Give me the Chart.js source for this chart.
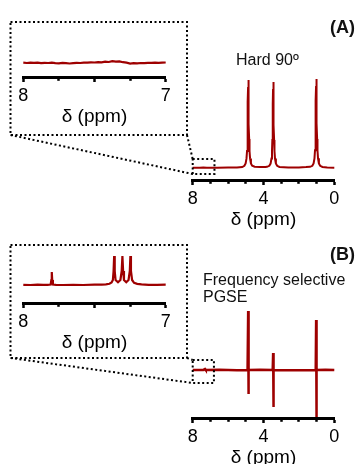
<!DOCTYPE html>
<html>
<head>
<meta charset="utf-8">
<script src="https://cdn.jsdelivr.net/npm/chart.js@4.4.0/dist/chart.umd.min.js"></script>
<style>
    html, body { margin: 0; padding: 0; background: #fff; width: 358px; height: 464px; overflow: hidden; }
    canvas { position: absolute; left: 0; top: 0; }
    .note { position: absolute; font-family: 'Liberation Sans', Arial, Helvetica, sans-serif; font-size: 16px; color: #111; white-space: nowrap; }
    .tag { font-weight: bold; font-size: 18px; line-height: 1; }
</style>
</head>
<body>
<canvas id="hardMain" width="358" height="520"></canvas>
<canvas id="hardZoom" width="358" height="520"></canvas>
<canvas id="pgseMain" width="358" height="520"></canvas>
<canvas id="pgseZoom" width="358" height="520"></canvas>

<div class="note tag" style="right:3px; top:18px;">(A)</div>
<div class="note" style="left:236px; top:52px; line-height:1;">Hard 90º</div>
<div class="note tag" style="right:3px; top:245px;">(B)</div>
<div class="note" style="left:203px; top:271px; line-height:17px;">Frequency selective<br>PGSE</div>

<script>
// Data (chemical shift in ppm, intensity in arbitrary units, baseline = 0)

// (A) hard 90° pulse spectrum
const hardPpm = [8.00, 7.60, 7.40, 7.20, 6.60, 6.00, 5.50, 5.20, 5.08, 5.01, 4.96, 4.93, 4.91, 4.895, 4.88, 4.87, 4.86, 4.85, 4.84, 4.825, 4.81, 4.79, 4.76, 4.71, 4.64, 4.50, 4.20, 3.90, 3.80, 3.67, 3.60, 3.55, 3.52, 3.50, 3.485, 3.47, 3.46, 3.45, 3.44, 3.43, 3.415, 3.40, 3.38, 3.35, 3.30, 3.23, 3.10, 2.60, 2.00, 1.60, 1.37, 1.24, 1.17, 1.12, 1.09, 1.07, 1.055, 1.04, 1.03, 1.02, 1.01, 1.00, 0.985, 0.97, 0.95, 0.92, 0.87, 0.80, 0.67, 0.40, 0.00];
const hardInt = [0.2, 0.3, 0.5, 0.2, 0.3, 0.4, 0.6, 1.0, 2.2, 4.5, 9.6, 17, 29, 44, 66, 81, 88, 81, 66, 44, 29, 17, 9.6, 4.5, 2.2, 1.2, 0.9, 1.1, 1.2, 2.2, 4.4, 9.4, 17, 28, 43, 64, 79, 86, 79, 64, 43, 28, 17, 9.4, 4.4, 2.2, 1.0, 0.6, 0.6, 0.9, 1.2, 2.2, 4.5, 9.7, 17.8, 29, 45, 67, 82, 89, 82, 67, 45, 29, 17.8, 9.7, 4.5, 2.2, 1.0, 0.5, 0.3];

// (A) inset, 8 -> 7 ppm
const hardZoomPpm = [8.000, 7.975, 7.950, 7.925, 7.900, 7.875, 7.850, 7.825, 7.800, 7.775, 7.750, 7.725, 7.700, 7.675, 7.650, 7.625, 7.600, 7.575, 7.550, 7.525, 7.500, 7.475, 7.450, 7.425, 7.400, 7.375, 7.350, 7.325, 7.300, 7.275, 7.250, 7.225, 7.200, 7.175, 7.150, 7.125, 7.100, 7.075, 7.050, 7.025, 7.000];
const hardZoomInt = [0.3, 0.0, 0.4, 0.1, 0.3, -0.2, 0.2, 0.0, 0.3, -0.1, -0.3, 0.1, -0.2, -0.5, -0.1, 0.2, 0.0, 0.4, 0.3, 0.7, 0.5, 0.9, 0.6, 1.3, 1.0, 1.8, 1.4, 1.6, 0.8, 0.3, -0.6, -0.2, -0.3, 0.0, -0.1, 0.2, 0.1, 0.3, 0.2, 0.4, 0.5];

// (B) frequency selective PGSE spectrum
const pgsePpm = [8.00, 7.81, 7.80, 7.79, 7.40, 7.33, 7.30, 7.26, 6.50, 5.50, 4.90, 4.866, 4.856, 4.83, 4.20, 3.48, 3.455, 3.445, 3.42, 2.50, 1.05, 1.026, 1.016, 0.99, 0.50, 0.00];
const pgseInt = [0, 0, 0.5, 0, 0, 0.8, 1.0, 0, 0.2, -0.2, 0, 59, -24, 0, 0.2, 0, 17, -37, 0, -0.2, 0, 50, -47, 0, 0.2, 0];

// (B) inset, 8 -> 7 ppm
const pgseZoomPpm = [8.000, 7.950, 7.900, 7.860, 7.830, 7.808, 7.803, 7.800, 7.797, 7.792, 7.770, 7.720, 7.650, 7.580, 7.500, 7.450, 7.420, 7.395, 7.380, 7.371, 7.366, 7.362, 7.358, 7.352, 7.335, 7.318, 7.309, 7.304, 7.299, 7.293, 7.277, 7.261, 7.252, 7.248, 7.244, 7.236, 7.222, 7.200, 7.170, 7.120, 7.060, 7.000];
const pgseZoomInt = [0.2, 0.0, 0.3, 0.1, 0.2, 0.5, 5, 13, 5, 0.5, 0.2, 0.0, 0.2, 0.0, 0.3, 0.4, 0.7, 1.2, 2.5, 5, 14, 29, 14, 5, 2.8, 5, 14, 29, 14, 5, 2.8, 5, 14, 29, 14, 5, 2.2, 1.2, 0.6, 0.2, 0.1, 0.3];

// Axis ticks
const mainTickLabels = [8, 4, 0];
const mainMajorTicks = [8, 4, 0];
const zoomTickLabels = [8, 7];
const zoomMajorTicks = [8, 7.5, 7];

// Styling
const RED = '#9e0000';
const FONT = "'Liberation Sans', Arial, Helvetica, sans-serif";
Chart.defaults.font.family = FONT;
Chart.defaults.color = '#000';

const CANVAS_H = 520;
const AXIS_H = 51;

function xAxis(min, max, step, labels, majors) {
    return {
        type: 'linear',
        reverse: true,
        min: min,
        max: max,
        afterFit: (scale) => { scale.height = AXIS_H; },
        border: { display: true, color: '#000', width: 3 },
        grid: {
            drawOnChartArea: false,
            drawTicks: true,
            tickLength: 5,
            tickWidth: 2.5,
            tickColor: '#000',
            tickBorderDash: (ctx) => (ctx.tick && majors.includes(ctx.tick.value)) ? [] : [1.8, 10]
        },
        ticks: {
            stepSize: step,
            autoSkip: false,
            maxRotation: 0,
            padding: 3,
            color: '#000',
            font: { size: 18 },
            callback: (v) => labels.includes(v) ? String(v) : ''
        },
        title: { display: true, text: 'δ (ppm)', color: '#000', font: { size: 19 }, padding: 0 }
    };
}

// dotted zoom box on the main spectrum, inset frame, and the two connecting lines
function zoomFrame(frame, box) {
    return {
        id: 'zoomFrame',
        afterDatasetsDraw(chart) {
            const { ctx, scales: { x, y } } = chart;
            const bl = x.getPixelForValue(box.from), br = x.getPixelForValue(box.to);
            const bt = y.getPixelForValue(box.top), bb = y.getPixelForValue(box.bottom);
            ctx.save();
            ctx.strokeStyle = '#000';
            ctx.lineWidth = 2;
            ctx.setLineDash([2, 2.5]);
            ctx.strokeRect(bl, bt, br - bl, bb - bt);
            ctx.strokeRect(frame.left, frame.top, frame.right - frame.left, frame.bottom - frame.top);
            ctx.beginPath();
            ctx.moveTo(frame.left, frame.bottom);
            ctx.lineTo(bl, bb);
            ctx.moveTo(frame.right, frame.bottom);
            ctx.lineTo(bl, bt);
            ctx.stroke();
            ctx.restore();
        }
    };
}

function makeChart(id, cfg) {
    return new Chart(document.getElementById(id), {
        type: 'line',
        data: {
            datasets: [{
                data: cfg.ppm.map((p, i) => ({ x: p, y: cfg.values[i] })),
                borderColor: RED,
                borderWidth: cfg.lineWidth,
                pointRadius: 0,
                tension: 0,
                clip: false
            }]
        },
        options: {
            responsive: false,
            animation: false,
            events: [],
            layout: {
                padding: {
                    left: cfg.area.left,
                    right: 358 - cfg.area.right,
                    top: cfg.area.top,
                    bottom: CANVAS_H - cfg.area.bottom - AXIS_H
                }
            },
            plugins: { legend: { display: false }, tooltip: { enabled: false } },
            scales: {
                x: cfg.x,
                y: { display: false, min: cfg.yMin, max: cfg.yMax }
            }
        },
        plugins: cfg.plugins || []
    });
}

makeChart('hardMain', {
    ppm: hardPpm, values: hardInt, lineWidth: 2,
    area: { left: 192.7, right: 334.3, top: 69, bottom: 180 },
    yMin: -12, yMax: 99,
    x: xAxis(0, 8, 1, mainTickLabels, mainMajorTicks),
    plugins: [zoomFrame({ left: 10.5, top: 22, right: 187, bottom: 135 }, { from: 8, to: 6.77, top: 9, bottom: -6 })]
});

makeChart('hardZoom', {
    ppm: hardZoomPpm, values: hardZoomInt, lineWidth: 2.2,
    area: { left: 23.3, right: 165.7, top: 35, bottom: 77 },
    yMin: -14, yMax: 28,
    x: xAxis(7, 8, 0.25, zoomTickLabels, zoomMajorTicks)
});

makeChart('pgseMain', {
    ppm: pgsePpm, values: pgseInt, lineWidth: 2.5,
    area: { left: 192.7, right: 334.3, top: 300, bottom: 418 },
    yMin: -48, yMax: 70,
    x: xAxis(0, 8, 1, mainTickLabels, mainMajorTicks),
    plugins: [zoomFrame({ left: 10.5, top: 245, right: 187, bottom: 358 }, { from: 8, to: 6.8, top: 10, bottom: -13 })]
});

makeChart('pgseZoom', {
    ppm: pgseZoomPpm, values: pgseZoomInt, lineWidth: 2.2,
    area: { left: 23.3, right: 165.7, top: 250, bottom: 303 },
    yMin: -18, yMax: 35,
    x: xAxis(7, 8, 0.25, zoomTickLabels, zoomMajorTicks)
});
</script>
</body>
</html>
